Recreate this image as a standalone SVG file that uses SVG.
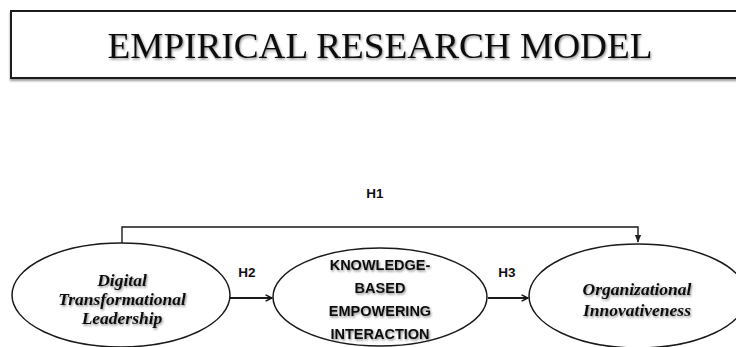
<svg xmlns="http://www.w3.org/2000/svg" width="736" height="347" viewBox="0 0 736 347">
  <defs>
    <filter id="shadow" x="-10%" y="-20%" width="120%" height="160%">
      <feDropShadow dx="1" dy="1.5" stdDeviation="1" flood-color="#000" flood-opacity="0.45"/>
    </filter>
    <filter id="boxShadow" x="-5%" y="-10%" width="110%" height="130%">
      <feDropShadow dx="0" dy="2" stdDeviation="1.2" flood-color="#000" flood-opacity="0.4"/>
    </filter>
    <marker id="arrow" viewBox="0 0 10 10" refX="9" refY="5" markerWidth="8" markerHeight="8" markerUnits="userSpaceOnUse" orient="auto">
      <path d="M1,1 L9,5 L1,9" fill="none" stroke="#111" stroke-width="1.8"/>
    </marker>
    <marker id="arrowSmall" viewBox="0 0 10 10" refX="9" refY="5" markerWidth="8" markerHeight="8" markerUnits="userSpaceOnUse" orient="auto">
      <path d="M0,1 L10,5 L0,9 Z" fill="#222"/>
    </marker>
  </defs>
  <style>
    .node { fill: #fff; stroke: #1a1a1a; stroke-width: 1.5; }
    .construct { font-family: "Liberation Serif", "DejaVu Serif", serif; font-weight: bold; font-style: italic; font-size: 17.5px; fill: #111; text-anchor: middle; filter: url(#shadow); }
    .caps { font-family: "Liberation Sans", "Open Sans", sans-serif; font-weight: bold; font-size: 14.5px; fill: #111; text-anchor: middle; filter: url(#shadow); }
    .hyp { font-family: "Liberation Sans", "Open Sans", sans-serif; font-weight: bold; font-size: 13.5px; fill: #111; text-anchor: middle; }
    .edge { fill: none; stroke: #1a1a1a; }
  </style>
  <rect width="736" height="347" fill="#fff"/>

  <!-- title banner -->
  <g id="title">
    <rect x="11" y="11" width="740" height="67" fill="#fff" stroke="#1a1a1a" stroke-width="2" filter="url(#boxShadow)"/>
    <text x="380" y="58" font-family="Liberation Serif, DejaVu Serif, serif" font-size="35" fill="#111" text-anchor="middle" textLength="545" lengthAdjust="spacingAndGlyphs" filter="url(#shadow)">EMPIRICAL RESEARCH MODEL</text>
  </g>

  <!-- connectors -->
  <g id="connectors">
    <path class="edge" d="M122,243 V227 H638 V242" stroke-width="1.4" marker-end="url(#arrowSmall)"/>
    <text class="hyp" x="375" y="198">H1</text>
    <path class="edge" d="M230,298 H272" stroke-width="2" marker-end="url(#arrow)"/>
    <text class="hyp" x="247" y="277">H2</text>
    <path class="edge" d="M488,298 H528" stroke-width="2" marker-end="url(#arrow)"/>
    <text class="hyp" x="507" y="277">H3</text>
  </g>

  <!-- constructs -->
  <g id="digital-transformational-leadership">
    <ellipse class="node" cx="121" cy="295" rx="109" ry="52"/>
    <text class="construct" x="122" y="286">Digital</text>
    <text class="construct" x="122" y="305">Transformational</text>
    <text class="construct" x="122" y="324">Leadership</text>
  </g>

  <g id="knowledge-based-empowering-interaction">
    <ellipse class="node" cx="380" cy="297" rx="107" ry="49"/>
    <text class="caps" x="380" y="270">KNOWLEDGE-</text>
    <text class="caps" x="380" y="293">BASED</text>
    <text class="caps" x="380" y="316">EMPOWERING</text>
    <text class="caps" x="380" y="339">INTERACTION</text>
  </g>

  <g id="organizational-innovativeness">
    <ellipse class="node" cx="638" cy="296" rx="109" ry="52"/>
    <text class="construct" x="637" y="295">Organizational</text>
    <text class="construct" x="637" y="316">Innovativeness</text>
  </g>
</svg>
